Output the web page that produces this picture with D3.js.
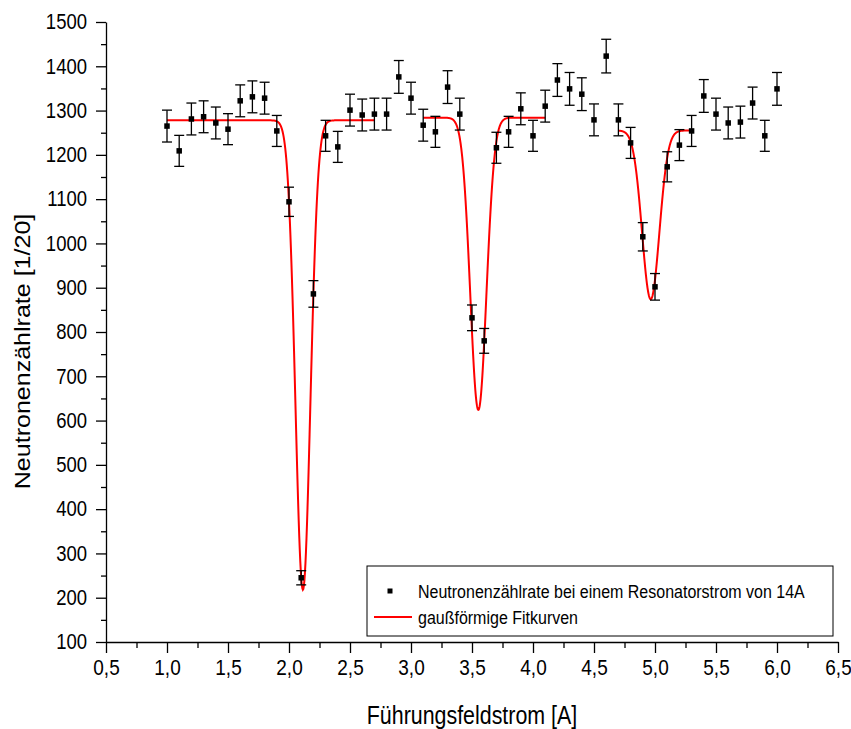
<!DOCTYPE html>
<html>
<head>
<meta charset="utf-8">
<script src="https://cdn.jsdelivr.net/npm/d3@7"></script>
<style>
  html, body { margin: 0; padding: 0; background: #fff; }
  text { font-family: "Liberation Sans", Arial, sans-serif; fill: #000; }
</style>
</head>
<body>
<svg id="chart" width="851" height="729"></svg>
<script>
// Measured neutron count rate vs. guide field current
const current = [1.0,1.1,1.2,1.3,1.4,1.5,1.6,1.7,1.8,1.9,2.0,2.1,2.2,2.3,2.4,2.5,2.6,2.7,2.8,2.9,
                 3.0,3.1,3.2,3.3,3.4,3.5,3.6,3.7,3.8,3.9,4.0,4.1,4.2,4.3,4.4,4.5,4.6,4.7,4.8,4.9,
                 5.0,5.1,5.2,5.3,5.4,5.5,5.6,5.7,5.8,5.9,6.0];
const countRate = [1265,1209,1281,1286,1272,1258,1322,1331,1328,1254,1094,245,886,1243,1218,1301,1290,1292,1292,1376,
                   1328,1267,1252,1353,1292,832,780,1216,1252,1304,1243,1310,1369,1349,1337,1279,1423,1279,1227,1015,
                   902,1173,1222,1254,1333,1292,1272,1274,1317,1243,1349];
const countErr = [36,35,36,36,36,35,36,36,36,35,33,16,30,35,35,36,36,36,36,37,
                  36,36,35,37,36,29,28,35,35,36,35,36,37,37,37,36,38,36,35,32,
                  30,34,35,35,37,36,36,36,36,35,37];

// Gaussian fit parameters of the three resonance dips
const fitStart  = [1.0, 3.1, 4.7];
const fitEnd    = [2.7, 4.1, 5.3];
const fitBase   = [1278, 1284, 1255];
const fitDepth  = [1060, 660, 381];
const fitCenter = [2.114, 3.552, 4.965];
const fitSigma  = [0.061, 0.066, 0.0707];

const xTicks = [0.5,1.0,1.5,2.0,2.5,3.0,3.5,4.0,4.5,5.0,5.5,6.0,6.5];
const yTicks = [100,200,300,400,500,600,700,800,900,1000,1100,1200,1300,1400,1500];

const legendLabels = ["Neutronenzählrate bei einem Resonatorstrom von 14A", "gaußförmige Fitkurven"];
const xTitle = "Führungsfeldstrom [A]";
const yTitle = "Neutronenzählrate [1/20]";

const svg = d3.select("#chart");
const plotL = 106, plotR = 838, plotT = 22, plotB = 642;
const stretch = 1.17; // glyphs are drawn taller than wide

const x = d3.scaleLinear().domain([0.5, 6.5]).range([plotL, plotR]);
const y = d3.scaleLinear().domain([100, 1500]).range([plotB, plotT]);

const fmt = v => d3.format(".1f")(v).replace(".", ",");

// minor ticks
const xMinor = d3.range(0.75, 6.5, 0.5);
const yMinor = d3.range(150, 1500, 100);

const gx = svg.append("g").attr("transform", `translate(0,${plotB})`)
  .call(d3.axisBottom(x).tickValues(xTicks).tickFormat(fmt).tickSizeInner(11).tickSizeOuter(0));
svg.append("g").attr("transform", `translate(0,${plotB})`)
  .call(d3.axisBottom(x).tickValues(xMinor).tickFormat("").tickSizeInner(6).tickSizeOuter(0))
  .select(".domain").remove();

const gy = svg.append("g").attr("transform", `translate(${plotL},0)`)
  .call(d3.axisLeft(y).tickValues(yTicks).tickFormat(d3.format("d")).tickSizeInner(10).tickSizeOuter(0));
svg.append("g").attr("transform", `translate(${plotL},0)`)
  .call(d3.axisLeft(y).tickValues(yMinor).tickFormat("").tickSizeInner(5).tickSizeOuter(0))
  .select(".domain").remove();

svg.selectAll(".domain, .tick line").attr("stroke", "#000").attr("stroke-width", 1.3);

gx.selectAll(".tick text")
  .attr("y", null).attr("dy", null)
  .attr("transform", `translate(0,33) scale(1,${stretch})`)
  .attr("font-size", 19).attr("font-family", "Liberation Sans, Arial, sans-serif").attr("fill", "#000");
gy.selectAll(".tick text")
  .attr("x", null).attr("dy", null)
  .attr("transform", `translate(-19,6.8) scale(1,${stretch})`)
  .attr("font-size", 18.5).attr("font-family", "Liberation Sans, Arial, sans-serif").attr("fill", "#000");

// axis titles
svg.append("text").attr("transform", `translate(${(plotL + plotR) / 2},724) scale(1,${stretch})`)
  .attr("text-anchor", "middle").attr("font-size", 21.4).text(xTitle);
svg.append("text").attr("transform", `translate(30,351.5) rotate(-90) scale(${stretch},1)`)
  .attr("text-anchor", "middle").attr("font-size", 21.4).text(yTitle);

// fit curves
const line = d3.line().x(d => x(d[0])).y(d => y(d[1]));
fitStart.forEach((s, i) => {
  const n = 400;
  const pts = d3.range(n + 1).map(k => {
    const xv = s + (fitEnd[i] - s) * k / n;
    const yv = fitBase[i] - fitDepth[i] * Math.exp(-((xv - fitCenter[i]) ** 2) / (2 * fitSigma[i] ** 2));
    return [xv, yv];
  });
  svg.append("path").datum(pts).attr("d", line)
    .attr("fill", "none").attr("stroke", "#ff0000").attr("stroke-width", 2);
});

// error bars
const data = current.map((c, i) => ({ c, v: countRate[i], e: countErr[i] }));
const eb = svg.append("g").attr("stroke", "#000").attr("stroke-width", 1.3);
eb.selectAll("line.v").data(data).join("line").attr("class", "v")
  .attr("x1", d => x(d.c)).attr("x2", d => x(d.c))
  .attr("y1", d => y(d.v - d.e)).attr("y2", d => y(d.v + d.e));
eb.selectAll("line.t").data(data).join("line").attr("class", "t")
  .attr("x1", d => x(d.c) - 5).attr("x2", d => x(d.c) + 5)
  .attr("y1", d => y(d.v + d.e)).attr("y2", d => y(d.v + d.e));
eb.selectAll("line.b").data(data).join("line").attr("class", "b")
  .attr("x1", d => x(d.c) - 5).attr("x2", d => x(d.c) + 5)
  .attr("y1", d => y(d.v - d.e)).attr("y2", d => y(d.v - d.e));

// markers
svg.append("g").selectAll("rect").data(data).join("rect")
  .attr("x", d => x(d.c) - 2.75).attr("y", d => y(d.v) - 2.75)
  .attr("width", 5.5).attr("height", 5.5).attr("fill", "#000");

// legend
const lg = svg.append("g");
lg.append("rect").attr("x", 367).attr("y", 566).attr("width", 466).attr("height", 70)
  .attr("fill", "#fff").attr("stroke", "#000").attr("stroke-width", 1);
lg.append("rect").attr("x", 390 - 2.5).attr("y", 591 - 2.5).attr("width", 5).attr("height", 5).attr("fill", "#000");
lg.append("text").attr("transform", `translate(418,597.5) scale(1,${stretch})`)
  .attr("font-size", 16).text(legendLabels[0]);
lg.append("line").attr("x1", 374).attr("x2", 412).attr("y1", 617).attr("y2", 617)
  .attr("stroke", "#ff0000").attr("stroke-width", 2);
lg.append("text").attr("transform", `translate(418,623.5) scale(1,${stretch})`)
  .attr("font-size", 16).text(legendLabels[1]);
</script>
</body>
</html>
